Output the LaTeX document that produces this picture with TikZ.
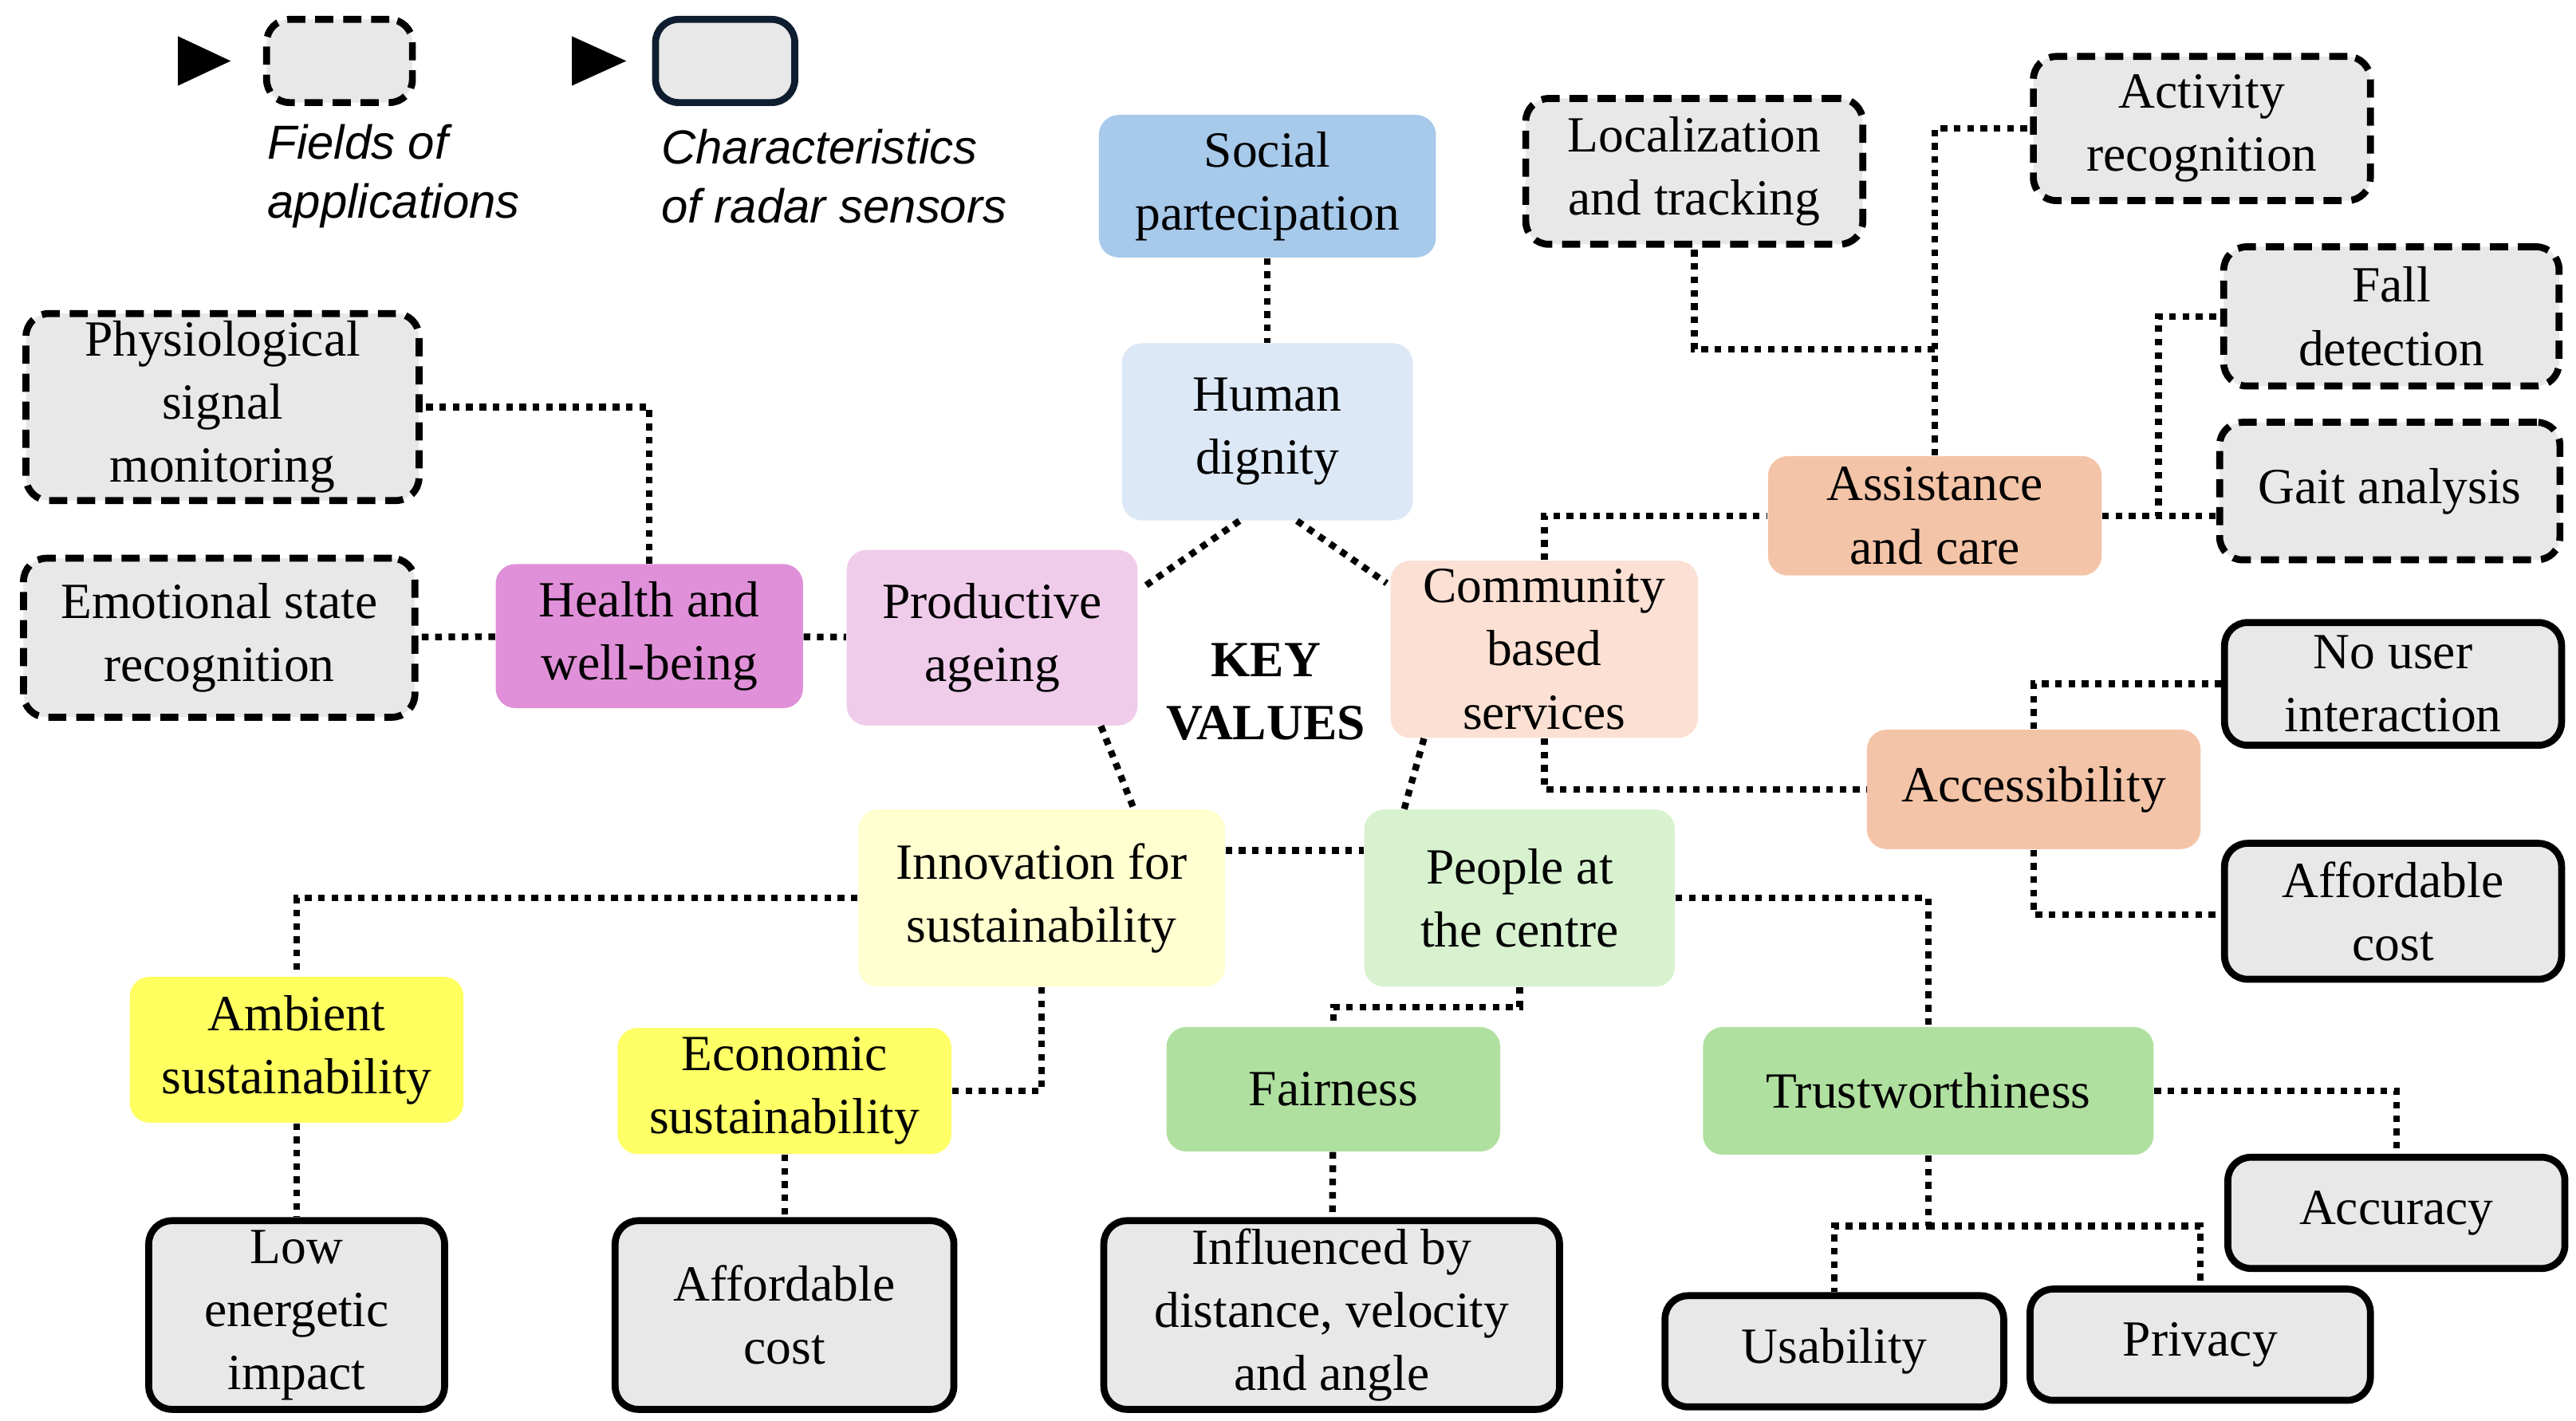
\documentclass[tikz,border=0pt]{standalone}
\usepackage{fontspec}
\setmainfont{Liberation Serif}
\newfontfamily\legfont{Liberation Sans}
\begin{document}
\begin{tikzpicture}[x=0.02cm,y=-0.02cm,
  every node/.style={font=\fontsize{17.5}{21.8}\selectfont, align=center, inner sep=0pt},
  sz/.style 2 args={minimum width=#1*0.02cm-2pt, minimum height=#2*0.02cm-2pt},
  val/.style={rounded corners=0.24cm, draw=none},
  field/.style={rounded corners=0.28cm, draw=black, fill=gray!18, line width=2.4pt, dash pattern=on 0.22cm off 0.12cm},
  chr/.style={rounded corners=0.28cm, draw=black, fill=gray!18, line width=2.4pt},
  link/.style={line width=2.3pt, dash pattern=on 2.3pt off 2.3pt}]
\useasboundingbox (0,0) rectangle (1563,862);
% legend
\fill (108,22) -- (140,37) -- (108,52) -- cycle;
\node[field, sz={92}{54}] (lg1) at (206,37) {};
\node[anchor=west, align=left, font=\legfont\itshape\fontsize{16.5}{20.5}\selectfont] (lt1) at (162,107) {Fields of\\applications};
\fill (347,22) -- (380,37) -- (347,52) -- cycle;
\node[chr, draw={rgb,255:red,14;green,30;blue,48}, sz={88}{54}] (lg2) at (440,37) {};
\node[anchor=west, align=left, font=\legfont\itshape\fontsize{16.5}{20.5}\selectfont] (lt2) at (401,107) {Characteristics\\of radar sensors};
% key values
\node[val, fill={rgb,255:red,167;green,201;blue,234}, sz={208}{90}] (soc) at (769,113) {Social\\partecipation};
\node[val, fill={rgb,255:red,220;green,232;blue,245}, sz={180}{111}] (hd) at (769,262) {Human\\dignity};
\node[val, fill={rgb,255:red,240;green,204;blue,235}, sz={180}{110}] (pa) at (602,387) {Productive\\ageing};
\node[val, fill={rgb,255:red,224;green,144;blue,216}, sz={190}{91}] (hw) at (394,386) {Health and\\well-being};
\node[val, fill={rgb,255:red,251;green,224;blue,211}, sz={190}{111}] (cb) at (937,394) {Community\\based\\services};
\node[font=\bfseries\fontsize{17.5}{21.8}\selectfont] (kv) at (768,420) {KEY\\VALUES};
\node[val, fill={rgb,255:red,255;green,255;blue,208}, sz={226}{111}] (inn) at (632,545) {Innovation for\\sustainability};
\node[val, fill={rgb,255:red,216;green,242;blue,208}, sz={192}{111}] (pc) at (922,545) {People at\\the centre};
\node[val, fill={rgb,255:red,255;green,255;blue,96}, sz={206}{92}] (amb) at (180,637) {Ambient\\sustainability};
\node[val, fill={rgb,255:red,255;green,255;blue,102}, sz={206}{80}] (eco) at (476,662) {Economic\\sustainability};
\node[val, fill={rgb,255:red,176;green,224;blue,160}, sz={206}{79}] (fair) at (809,661) {Fairness};
\node[val, fill={rgb,255:red,176;green,224;blue,160}, sz={277}{81}] (tr) at (1170,662) {Trustworthiness};
\node[val, fill={rgb,255:red,244;green,196;blue,168}, sz={206}{76}] (ac) at (1174,313) {Assistance\\and care};
\node[val, fill={rgb,255:red,244;green,196;blue,168}, sz={206}{76}] (acc) at (1234,479) {Accessibility};
% fields
\node[field, sz={242}{117}] (phy) at (135,247) {Physiological\\signal\\monitoring};
\node[field, sz={241}{100}] (emo) at (133,387) {Emotional state\\recognition};
\node[field, sz={208}{92}] (loc) at (1028,104) {Localization\\and tracking};
\node[field, sz={208}{91}] (act) at (1336,78) {Activity\\recognition};
\node[field, sz={207}{88}] (fall) at (1451,192) {Fall\\detection};
\node[field, sz={210}{87}] (gait) at (1450,298) {Gait analysis};
% characteristics
\node[chr, sz={208}{78}] (nou) at (1452,415) {No user\\interaction};
\node[chr, sz={208}{86}] (aff2) at (1452,553) {Affordable\\cost};
\node[chr, sz={208}{71}] (accu) at (1454,736) {Accuracy};
\node[chr, sz={209}{71}] (usa) at (1113,820) {Usability};
\node[chr, sz={210}{71}] (pri) at (1335,816) {Privacy};
\node[chr, sz={280}{118}] (inf) at (808,798) {Influenced by\\distance, velocity\\and angle};
\node[chr, sz={209}{118}] (aff1) at (476,798) {Affordable\\cost};
\node[chr, sz={183}{118}] (low) at (180,798) {Low\\energetic\\impact};
% connectors
\coordinate (j1) at (1170,744);
\coordinate (j2) at (1174,212);
\draw[link] (soc) -- (hd);
\draw[link] ([xshift=-0.34cm]hd.south) -- ([shift={(0.06cm,-0.46cm)}]pa.north east);
\draw[link] ([xshift=0.36cm]hd.south) -- ([shift={(-0.04cm,-0.28cm)}]cb.north west);
\draw[link] ([xshift=1.32cm]pa.south) -- ([xshift=1.12cm]inn.north);
\draw[link] ([xshift=-1.46cm]cb.south) -- ([xshift=-1.4cm]pc.north);
\draw[link] ([yshift=0.58cm]inn.east) -- ([yshift=0.58cm]pc.west);
\draw[link] (hw) -- (pa);
\draw[link] (hw) -- (emo);
\draw[link] (hw.north) |- (phy.east);
\draw[link] (inn.west) -| (amb.north);
\draw[link] (inn.south) |- (eco.east);
\draw[link] (amb) -- (low);
\draw[link] (eco) -- (aff1);
\draw[link] (pc.south) -- ++(0,12) -| (fair.north);
\draw[link] (fair) -- (inf);
\draw[link] (pc.east) -| (tr.north);
\draw[link] (tr.east) -| (accu.north);
\draw[link] (tr.south) -- (j1) -| (usa.north);
\draw[link] (j1) -| (pri.north);
\draw[link] (cb.north) |- (ac.west);
\draw[link] (cb.south) |- (acc.west);
\draw[link] (ac.north) -- (j2) -| (loc.south);
\draw[link] (j2) |- (act.west);
\draw[link] (ac.east) -- ++(34,0) |- (fall.west);
\draw[link] (ac.east) -- (ac.east -| gait.west);
\draw[link] (acc.north) |- (nou.west);
\draw[link] (acc.south) |- ([yshift=-0.04cm]aff2.west);
\end{tikzpicture}
\end{document}
